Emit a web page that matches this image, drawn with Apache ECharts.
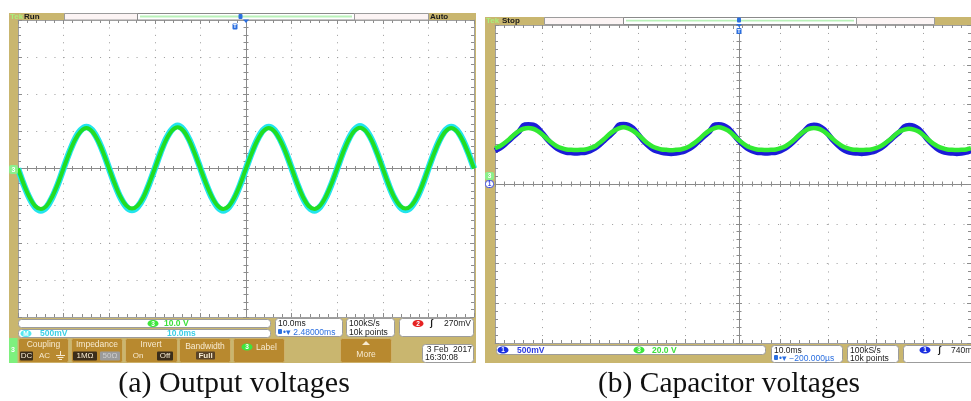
<!DOCTYPE html>
<html><head><meta charset="utf-8">
<script src="https://cdn.jsdelivr.net/npm/echarts@6/dist/echarts.min.js"></script>
<style>html,body{margin:0;padding:0;background:#fff}#c{width:971px;height:401px}</style>
</head><body><div id="c"></div>
<script>
// ---- data, y in screen divisions ----
const stepA = 1.25; // ms per sample, panel (a)
const outCh3 = [0,-0.42,-0.77,-1.01,-1.09,-1.01,-0.76,-0.41,0.01,0.42,0.77,1.0,1.09,1.0,0.76,0.41,
 -0.01,-0.42,-0.77,-1.0,-1.08,-1.0,-0.77,-0.41,0,0.42,0.78,1.02,1.11,1.02,0.77,0.41,
 0,-0.41,-0.76,-1.0,-1.09,-1.01,-0.77,-0.42,0,0.41,0.76,1.0,1.09,1.0,0.76,0.42,
 0.01,-0.41,-0.77,-1.01,-1.09,-1.0,-0.76,-0.41,0,0.42,0.77,1.01,1.1,1.01,0.77,0.41,
 0,-0.42,-0.77,-1.0,-1.08,-1.0,-0.77,-0.42,0,0.41,0.76,1.0,1.09,1.0,0.76,0.41,0];
const outMath = [0,-0.43,-0.79,-1.04,-1.13,-1.04,-0.78,-0.42,0.01,0.43,0.79,1.03,1.12,1.03,0.78,0.42,
 -0.01,-0.43,-0.79,-1.03,-1.12,-1.03,-0.79,-0.42,0,0.43,0.8,1.05,1.15,1.05,0.79,0.42,
 0,-0.42,-0.78,-1.03,-1.13,-1.04,-0.79,-0.43,0,0.42,0.78,1.03,1.12,1.03,0.78,0.43,
 0.01,-0.42,-0.79,-1.04,-1.13,-1.03,-0.78,-0.42,0,0.43,0.79,1.04,1.14,1.04,0.79,0.42,
 0,-0.43,-0.79,-1.03,-1.12,-1.03,-0.79,-0.43,0,0.42,0.78,1.03,1.12,1.03,0.78,0.42,0];
const stepB = 1; // ms per sample, panel (b)
const capCh3 = [0.90,0.95,1.03,1.13,1.24,1.33,1.39,1.41,
 1.39,1.33,1.24,1.13,1.03,0.95,0.90,0.87,0.86,0.855,
 0.86,0.87,0.90,0.95,1.04,1.14,1.25,1.34,1.40,1.43,
 1.40,1.34,1.25,1.14,1.03,0.95,0.90,0.87,0.86,0.85,
 0.86,0.87,0.90,0.96,1.04,1.14,1.25,1.34,1.40,1.43,
 1.40,1.34,1.24,1.13,1.03,0.95,0.90,0.87,0.86,0.855,
 0.86,0.87,0.90,0.95,1.03,1.13,1.24,1.33,1.39,1.41,
 1.39,1.33,1.24,1.13,1.03,0.95,0.90,0.87,0.86,0.855,
 0.86,0.87,0.90,0.95,1.03,1.12,1.23,1.32,1.37,1.39,
 1.37,1.32,1.23,1.12,1.02,0.95,0.90,0.87,0.86,0.855,
 0.86,0.87,0.90];
const capCh1 = [0.84,0.90,0.99,1.10,1.21,1.31,1.47,1.49,
 1.48,1.41,1.27,1.12,1.00,0.90,0.84,0.80,0.79,0.78,
 0.79,0.80,0.84,0.90,0.99,1.10,1.21,1.32,1.48,1.50,
 1.48,1.40,1.26,1.11,0.99,0.89,0.83,0.80,0.78,0.77,
 0.78,0.80,0.84,0.90,0.99,1.10,1.21,1.31,1.47,1.49,
 1.47,1.40,1.27,1.12,1.00,0.90,0.84,0.80,0.79,0.78,
 0.79,0.80,0.84,0.90,0.99,1.10,1.22,1.33,1.45,1.48,
 1.46,1.38,1.25,1.10,0.98,0.88,0.82,0.79,0.78,0.77,
 0.78,0.80,0.84,0.90,0.99,1.10,1.21,1.31,1.44,1.47,
 1.45,1.38,1.25,1.10,0.98,0.88,0.82,0.79,0.78,0.77,
 0.78,0.80,0.84];
const timeRange = [0, 100];   // ms, 10 divisions of 10 ms
const voltRange = [-4, 4];    // 8 vertical divisions
const captions = ['(a) Output voltages', '(b) Capacitor voltages'];

// ---- layout ----
const TAN='#c9b66f', BTN='#b8892f', DARK='#3a2d1a', BTXT='#f7ead0', BOX='#9c9c9c';
const gA = {left:18, top:20, width:456, height:297};
const gB = {left:495, top:25, width:488, height:318};

function axes(gi, g, isX){
  const tickC='#8c8c8c';
  const along = isX ? g.height/8/5 : g.width/10/5;
  const base = {type:'value', gridIndex:gi, min: isX?timeRange[0]:voltRange[0], max: isX?timeRange[1]:voltRange[1],
    interval: isX?10:1, axisLabel:{show:false}, splitLine:{show:false}};
  const tk = (inside,len)=>({show:true, inside:inside, length:len, lineStyle:{color:tickC}});
  const mt = (len)=>({show:true, splitNumber:5, length:len, lineStyle:{color:tickC}});
  const posA = isX?'bottom':'left', posB = isX?'top':'right';
  return [
    Object.assign({}, base, {position:posA, axisLine:{show:true,onZero:false,lineStyle:{color:'#a0a0a0'}},
      axisTick:tk(true,4), minorTick:mt(3),
      splitLine:{show:true, lineStyle:{color:'#9a9a9a', width:1, type:[1, along-1]}}}),
    Object.assign({}, base, {position:posB, axisLine:{show:true,onZero:false,lineStyle:{color:'#a0a0a0'}},
      axisTick:tk(true,4), minorTick:mt(3)}),
    Object.assign({}, base, {position:posA, offset: isX?0:-g.width/2,
      axisLine:{show:true,onZero:isX,lineStyle:{color:'#8a8a8a'}}, axisTick:tk(true,3), minorTick:mt(2.5)}),
    Object.assign({}, base, {position:posA, offset: isX?0:-g.width/2,
      axisLine:{show:true,onZero:isX,lineStyle:{color:'#8a8a8a'}}, axisTick:tk(false,3), minorTick:mt(2.5)})
  ];
}

// ---- graphic helpers ----
const G=[];
function R(x,y,w,h,fill,stroke,r,z){G.push({type:'rect',silent:true,z:z==null?50:z,shape:{x:x,y:y,width:w,height:h,r:r||0},style:{fill:fill,stroke:stroke||null,lineWidth:stroke?1:0}});}
function T(x,y,text,fill,size,weight,align,family,z){G.push({type:'text',silent:true,z:z==null?60:z,x:x,y:y,style:{text:text,fill:fill,font:(weight||'normal')+' '+size+'px '+(family||'"Liberation Sans"'),textAlign:align||'left',align:align||'left',textVerticalAlign:'middle',verticalAlign:'middle'}});}
function E(cx,cy,rx,ry,fill,stroke,z){G.push({type:'ellipse',silent:true,z:z==null?55:z,shape:{cx:cx,cy:cy,rx:rx,ry:ry},style:{fill:fill,stroke:stroke||null,lineWidth:stroke?1:0}});}
function P(pts,fill,z){G.push({type:'polygon',silent:true,z:z==null?55:z,shape:{points:pts},style:{fill:fill}});}
function L(x1,y1,x2,y2,c,w,z){G.push({type:'line',silent:true,z:z==null?55:z,shape:{x1:x1,y1:y1,x2:x2,y2:y2},style:{stroke:c,lineWidth:w||1}});}
function badge(cx,cy,t,fill,tc){E(cx,cy,5.5,3.6,fill);T(cx,cy+0.3,t,tc||'#fff',6.5,'bold','center');}
function tmark(x,y){R(x,y,5,6,'#2b6fe0',null,1,58);T(x+2.5,y+3.2,'T','#fff',5.5,'bold','center',null,59);}

// Panel (a)
R(9,13,467,350,TAN,null,0,-10);
R(18,20,456,297,'#fff',null,0,-9);
R(64.5,13.5,73,6.5,'#fcf4f4',BOX,0,5);
R(137.5,13.5,217,6.5,'#fff','#8a8a8a',0,5);
R(140,15.6,212,1.8,'#b9f2b9',null,0,6);
R(354.5,13.5,74,6.5,'#fcf4f4',BOX,0,5);
T(10,16.9,'Tek','#a8f07c',8,'bold'); T(24,16.9,'Run','#1a1a1a',8,'bold'); T(430,16.9,'Auto','#1a1a1a',8,'bold');
P([[243,19.5],[249,19.5],[246,23]],'#2b6fe0',58); R(238.5,14,4,5,'#2b6fe0',null,1,58);
tmark(232.5,23.5);
R(9,165,9,9,'#8cf08c',null,2,58); T(13.5,169.8,'3','#fff',7,'bold','center');
R(18.5,319.5,252,8,'#fff',BOX,3); badge(153,323.5,'3','#3ee63e'); T(164,323.8,'10.0 V','#3ce03c',8.5,'bold');
R(18.5,329.5,252,8,'#fff',BOX,3); badge(26,333.5,'M','#55e8f2'); T(40,333.8,'500mV','#3ccfe6',8.5,'bold'); T(167,333.8,'10.0ms','#3ccfe6',8.5,'bold');
R(275.5,318.5,67,18,'#fff',BOX,3); T(278,323.8,'10.0ms','#1a1a1a',8.5); R(278,329,4,5,'#2b6fe0',null,1,58); T(283,332.3,'•▾ 2.48000ms','#2b6fe0',8.5);
R(346.5,318.5,48,18,'#fff',BOX,3); T(349,323.8,'100kS/s','#1a1a1a',8.5); T(349,332.3,'10k points','#1a1a1a',8.5);
R(399.5,318.5,74,18,'#fff',BOX,3); badge(418,323.5,'2','#e62222'); T(430,323.8,'ʃ','#1a1a1a',9,'bold'); T(471,323.8,'270mV','#1a1a1a',8.5,'normal','right');
R(9,338,8.5,25,'#7ef07e',null,0,40); T(13,350.5,'3','#fff',7,'bold','center');
const btnY=338.5, btnH=24;
R(18.5,btnY,50,btnH,BTN,'#cdb06a',2,40); T(43.5,345,'Coupling',BTXT,8.5,'normal','center');
R(20,351.5,13,9,DARK,null,1); T(26.5,356,'DC',BTXT,8,'normal','center'); T(44.5,356,'AC',BTXT,8,'normal','center');
L(60.5,351,60.5,355,BTXT); L(56,355.5,65,355.5,BTXT); L(57.5,357.5,63.5,357.5,BTXT); L(59,359.5,62,359.5,BTXT);
R(71.5,btnY,51,btnH,BTN,'#cdb06a',2,40); T(97,345,'Impedance',BTXT,8.5,'normal','center');
R(73,351.5,24,9,DARK,null,1); T(85,356,'1MΩ',BTXT,8,'normal','center'); R(100,351.5,20,9,'#9b9b9b',null,1); T(110,356,'50Ω','#cfcfcf',8,'normal','center');
R(125.5,btnY,52,btnH,BTN,'#cdb06a',2,40); T(151,345,'Invert',BTXT,8.5,'normal','center');
T(138,356,'On',BTXT,8,'normal','center'); R(157,351.5,16,9,DARK,null,1); T(165,356,'Off',BTXT,8,'normal','center');
R(179.5,btnY,51,btnH,BTN,'#cdb06a',2,40); T(205,346.5,'Bandwidth',BTXT,8.5,'normal','center');
R(196,351.5,19,8,'#5a4428',null,1); T(205.5,355.5,'Full',BTXT,8,'bold','center');
R(233.5,btnY,51,btnH,BTN,'#cdb06a',2,40); badge(247,347,'3','#3ee63e'); T(256,347.3,'Label',BTXT,8.5,'normal');
R(340.5,btnY,51,btnH,BTN,'#cdb06a',2,40); P([[362,345],[370,345],[366,341]],BTXT,56); T(366,354.5,'More',BTXT,8.5,'normal','center');
R(422.5,344.5,51,18,'#fff',BOX,3); T(472,349.5,'3 Feb  2017','#1a1a1a',8.5,'normal','right'); T(425,357.8,'16:30:08','#1a1a1a',8.5);

// Panel (b)
R(485,17,486,346,TAN,null,0,-10);
R(495,25,476,318,'#fff',null,0,-9);
R(544.5,17.5,79,7,'#fcf4f4',BOX,0,5);
R(623.5,17.5,233,7,'#fff','#8a8a8a',0,5);
R(626,19.8,228,1.8,'#b9f2b9',null,0,6);
R(856.5,17.5,78,7,'#fcf4f4',BOX,0,5);
T(486,21.2,'Tek','#a8f07c',8,'bold'); T(502,21.2,'Stop','#1a1a1a',8,'bold');
P([[736,24],[742,24],[739,27]],'#2b6fe0',58); R(737,17.5,4,5,'#2b6fe0',null,1,58);
tmark(736.5,28);
R(485,172,9,8,'#8cf08c',null,2,58); T(489.5,176.3,'3','#fff',6.5,'bold','center');
R(485.5,180.5,8,7,'#fff','#3a4ae6',3,58); T(489.5,184.2,'1','#3a4ae6',6.5,'bold','center');
R(496.5,345.5,269,9,'#fff',BOX,3); badge(503,350,'1','#1a2fe0'); T(517,350.3,'500mV','#2c3ae0',8.5,'bold');
badge(639,350,'3','#3ee63e'); T(652,350.3,'20.0 V','#3ce03c',8.5,'bold');
R(771.5,345.5,71,17,'#fff',BOX,3); T(774,350.3,'10.0ms','#1a1a1a',8.5); R(774,355,4,5,'#2b6fe0',null,1,58); T(779,358.3,'•▾ −200.000µs','#2b6fe0',8.5);
R(847.5,345.5,51,17,'#fff',BOX,3); T(850,350.3,'100kS/s','#1a1a1a',8.5); T(850,358.3,'10k points','#1a1a1a',8.5);
R(903.5,345.5,80,17,'#fff',BOX,3); badge(925,350,'1','#1a2fe0'); T(938,350.3,'ʃ','#1a1a1a',9,'bold'); T(951,350.3,'740mV','#1a1a1a',8.5);

// captions
T(234,384,captions[0],'#111',30,'normal','center','"Liberation Serif"');
T(729,384,captions[1],'#111',29.5,'normal','center','"Liberation Serif"');

const pairs=(arr,step)=>arr.map((v,i)=>[i*step,v]);
const chart = echarts.init(document.getElementById('c'), null, {renderer:'canvas'});
chart.setOption({
  animation:false,
  grid:[gA,gB],
  xAxis: axes(0,gA,true).concat(axes(1,gB,true)),
  yAxis: axes(0,gA,false).concat(axes(1,gB,false)),
  graphic:{elements:G},
  series:[
    {type:'line',xAxisIndex:0,yAxisIndex:0,data:pairs(outMath,stepA),showSymbol:false,smooth:0.35,silent:true,z:3,lineStyle:{color:'#22e4ee',width:6.5}},
    {type:'line',xAxisIndex:0,yAxisIndex:0,data:pairs(outCh3,stepA),showSymbol:false,smooth:0.35,silent:true,z:4,lineStyle:{color:'#22dd22',width:4}},
    {type:'line',xAxisIndex:4,yAxisIndex:4,data:pairs(capCh1,stepB),showSymbol:false,smooth:0.2,silent:true,z:3,lineStyle:{color:'#1c1cd8',width:5.5}},
    {type:'line',xAxisIndex:4,yAxisIndex:4,data:pairs(capCh3,stepB),showSymbol:false,smooth:0.2,silent:true,z:4,lineStyle:{color:'#33ea33',width:4.5}}
  ]
});
</script></body></html>
